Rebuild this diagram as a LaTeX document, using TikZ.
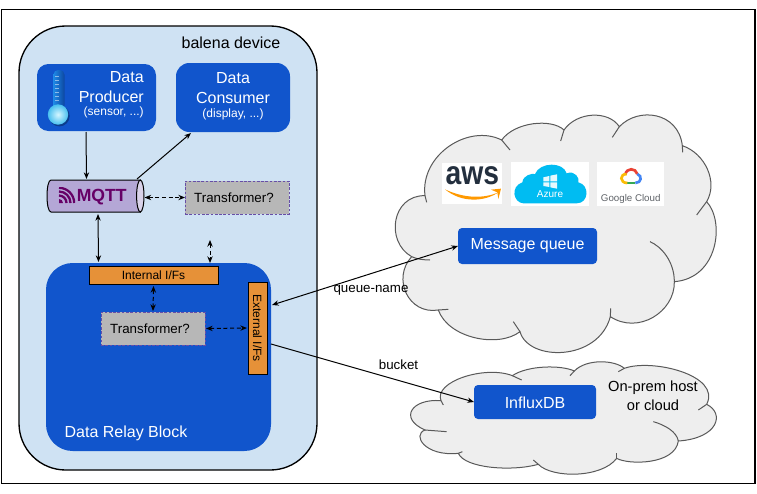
\documentclass[tikz,border=0pt]{standalone}
\usepackage{fontspec}
\setmainfont{Liberation Sans}
\usetikzlibrary{arrows.meta,fit,shadings}
\definecolor{devfill}{HTML}{CFE2F3}
\definecolor{relayblue}{HTML}{1155CC}
\definecolor{ifaceorange}{HTML}{E69138}
\definecolor{transgray}{HTML}{B7B7B7}
\definecolor{transedge}{HTML}{674EA7}
\definecolor{mqttfill}{HTML}{B4A7D6}
\definecolor{mqttend}{HTML}{D9D2E9}
\definecolor{mqttlogo}{HTML}{660066}
\definecolor{cloudfill}{HTML}{EEEEEE}
\definecolor{cloudedge}{HTML}{595959}
\definecolor{azureblue}{HTML}{00BCF2}
\definecolor{awsdark}{HTML}{232F3E}
\definecolor{awsorange}{HTML}{FF9900}
\definecolor{ggray}{HTML}{5F6368}
\definecolor{gred}{HTML}{EA4335}
\definecolor{gblue}{HTML}{4285F4}
\definecolor{ggreen}{HTML}{34A853}
\definecolor{gyellow}{HTML}{FBBC05}
\definecolor{thermA}{HTML}{1E88E5}
\definecolor{thermB}{HTML}{5CC6F7}
\definecolor{thermC}{HTML}{0D47A1}
\definecolor{thermD}{HTML}{D4F6FF}
\definecolor{thermE}{HTML}{48BFEF}
\definecolor{thermF}{HTML}{0B3C8C}
\tikzset{
  boxfit/.style={inner sep=0pt,outer sep=0pt},
  bluebox/.style={boxfit,fill=relayblue},
  ifacebox/.style={boxfit,fill=ifaceorange,draw=black,line width=0.75pt},
  transbox/.style={boxfit,fill=transgray,draw=transedge,line width=0.6pt,dash pattern=on 2pt off 1.2pt},
  whitetext/.style={text=white,inner sep=0pt},
  blacktext/.style={text=black,inner sep=0pt},
  link/.style={black,line width=0.75pt},
  onehead/.style={link,-{Stealth[length=5pt,width=4pt]}},
  twohead/.style={link,{Stealth[length=5pt,width=4pt]}-{Stealth[length=5pt,width=4pt]}},
  dashhead/.style={twohead,dash pattern=on 3pt off 2pt},
  cloudline/.style={draw=cloudedge,line width=0.75pt},
  zoomA/.style={shift={(385,105)},x=0.25pt,y=-0.25pt},
  zoomB/.style={shift={(405,355)},x=0.25pt,y=-0.25pt},
}
\begin{document}
\begin{tikzpicture}[x=0.75pt,y=-0.75pt]
\useasboundingbox (0,0) rectangle (757,493);
\fill[white] (0,0) rectangle (757,493);
\draw[black,line width=1pt] (1.5,9.5) rectangle (755,483.5);

% device
\node[boxfit,fit={(19,26)(317,470)},fill=devfill,draw=black,line width=1pt,rounded corners=35pt] (device) {};
\node[blacktext,font=\fontsize{12}{14}\selectfont] (devlabel) at (231,42.5) {balena device};

% producer
\node[bluebox,fit={(37,64)(156,131)},rounded corners=8.5pt] (producer) {};
\fill[thermF] (59.3,116) circle[radius=10.4];
\shade[left color=thermA,middle color=thermB,right color=thermC,rounded corners=3.5pt] (53.5,70) rectangle (64.5,110);
\foreach \t in {76,80,84,88,92,96,100} \draw[white,opacity=.5,line width=.3pt] (55,\t) -- (59,\t);
\shade[inner color=thermD,outer color=thermE] (58,114.5) circle[radius=10.2];
\node[whitetext,anchor=east,font=\fontsize{12}{14}\selectfont] (prodA) at (144,77.5) {Data};
\node[whitetext,anchor=east,font=\fontsize{12}{14}\selectfont] (prodB) at (144,96.5) {Producer};
\node[whitetext,anchor=east,font=\fontsize{9}{11}\selectfont] (prodC) at (144,112.5) {(sensor, ...)};

% consumer
\node[bluebox,fit={(176,63)(290,132)},rounded corners=10pt] (consumer) {};
\node[whitetext,font=\fontsize{12}{14}\selectfont] (consA) at (233,78.5) {Data};
\node[whitetext,font=\fontsize{12}{14}\selectfont] (consB) at (233,98) {Consumer};
\node[whitetext,font=\fontsize{9}{11}\selectfont] (consC) at (233,114.5) {(display, ...)};

% mqtt
\node[boxfit,fit={(47,180)(144,212)}] (mqtt) {};
\path[fill=mqttfill,draw=black,line width=0.75pt] (51,180) -- (140.3,180) -- (140.3,212) -- (51,212) .. controls (45.7,212) and (45.7,180) .. (51,180) -- cycle;
\draw[fill=mqttend,draw=black,line width=0.75pt] (140.3,196) ellipse [x radius=3.7,y radius=16];
\begin{scope}
  \clip (58.5,187.5) rectangle (75,203.5);
  \fill[mqttlogo] (59,203) -- (59,199) .. controls (61.2,199) and (63,200.8) .. (63,203) -- cycle;
  \foreach \r in {7.5,11.5,15.2}
    \draw[mqttlogo,line width=1.7pt] (59,{203-\r}) .. controls ({59+.55*\r},{203-\r}) and ({59+\r},{203-.55*\r}) .. ({59+\r},203);
\end{scope}
\node[text=mqttlogo,inner sep=0pt,font=\fontsize{13.2}{15}\selectfont\bfseries] (mqtttext) at (101.7,197) {MQTT};

% transformer 1
\node[transbox,fit={(185,181)(289,214)}] (transA) {};
\node[blacktext,font=\fontsize{10}{12}\selectfont] (transAt) at (234,198) {Transformer?};

% relay block
\node[bluebox,fit={(46,263)(271,451)},rounded corners=20pt] (relay) {};
\node[whitetext,font=\fontsize{12}{14}\selectfont] (relaylabel) at (126,433) {Data Relay Block};
\node[ifacebox,fit={(89,266)(218,284)}] (internal) {};
\node[blacktext,font=\fontsize{9}{11}\selectfont] (internalt) at (153.5,275.5) {Internal I/Fs};
\node[ifacebox,fit={(248,282)(267,374)}] (external) {};
\node[blacktext,rotate=-90,font=\fontsize{9}{11}\selectfont] (externalt) at (257.5,328) {External I/Fs};
\node[transbox,fit={(101,312)(205,345)}] (transB) {};
\node[blacktext,font=\fontsize{10}{12}\selectfont] (transBt) at (150,329) {Transformer?};

% cloud 1
\begin{scope}[zoomA]
  \path[fill=cloudfill,cloudline] (120,272) .. controls (105,150) and (250,55) .. (350,105)
    .. controls (390,50) and (500,40) .. (537,75)
    .. controls (575,20) and (670,15) .. (703,65)
    .. controls (760,5) and (880,20) .. (892,122)
    .. controls (960,145) and (1000,230) .. (965,290)
    .. controls (1020,350) and (1000,520) .. (868,530)
    .. controls (870,620) and (760,690) .. (676,635)
    .. controls (640,770) and (430,770) .. (405,680)
    .. controls (340,730) and (190,700) .. (160,615)
    .. controls (70,630) and (20,520) .. (80,455)
    .. controls (0,410) and (20,270) .. (120,272) -- cycle;
  \draw[cloudline] (350,105) -- (375,135);
  \draw[cloudline] (537,75) -- (527,108);
  \draw[cloudline] (703,65) -- (682,97);
  \draw[cloudline] (892,122) -- (893,142);
  \draw[cloudline] (965,290) -- (935,330);
  \draw[cloudline] (868,530) .. controls (868,470) and (830,425) .. (795,410);
  \draw[cloudline] (676,635) -- (677,610);
  \draw[cloudline] (405,680) -- (385,650);
  \draw[cloudline] (160,615) -- (190,613);
  \draw[cloudline] (80,455) .. controls (95,462) and (115,465) .. (135,465);
  \draw[cloudline] (120,272) -- (125,292);
  % aws
  \fill[white] (170,175) rectangle (352,297);
  \fill[awsorange] (180,253) .. controls (230,295) and (300,290) .. (340,262) .. controls (300,280) and (240,282) .. (180,253) -- cycle;
  \fill[awsorange] (318,254) -- (348,251) -- (340,282) -- (337,262) -- cycle;
  % azure
  \fill[white] (378,170) rectangle (612,302);
  \fill[azureblue] (415,295) .. controls (385,293) and (375,245) .. (412,232) .. controls (415,210) and (440,205) .. (450,207) .. controls (465,170) and (535,170) .. (545,205) .. controls (570,195) and (585,220) .. (580,232) .. controls (615,240) and (612,295) .. (575,295) -- cycle;
  \fill[white,opacity=.9] (475,217) -- (493,213) -- (493,229) -- (475,229) -- cycle;
  \fill[white,opacity=.9] (496,212) -- (516,208) -- (516,229) -- (496,229) -- cycle;
  \fill[white,opacity=.9] (475,232) -- (493,232) -- (493,246) -- (475,243) -- cycle;
  \fill[white,opacity=.9] (496,232) -- (516,232) -- (516,251) -- (496,247) -- cycle;
  % google
  \fill[white] (637,170) rectangle (836,302);
  \draw[line width=2pt,color=gred] (721,208) .. controls (725,188) and (752,188) .. (757,207);
  \draw[line width=2pt,color=gblue] (757,207) .. controls (772,212) and (770,234) .. (751,234);
  \draw[line width=2pt,color=ggreen] (751,234) -- (727,234);
  \draw[line width=2pt,color=gyellow] (727,234) .. controls (703,234) and (704,205) .. (725,208);
\end{scope}
\node[text=awsdark,inner sep=0pt,font=\fontsize{20}{24}\selectfont\bfseries] (awstext) at (472.3,175.5) {\scalebox{1.06}[1.25]{aws}};
\node[text=white,inner sep=0pt,font=\fontsize{7.5}{9}\selectfont] (azuretext) at (550,194.5) {Azure};
\node[text=ggray,inner sep=0pt,font=\fontsize{7.3}{9}\selectfont] (gcloudtext) at (630.7,199) {Google Cloud};
\node[bluebox,fit={(458,228)(597,264)},rounded corners=3pt] (queue) {};
\node[whitetext,font=\fontsize{12}{14}\selectfont] (queuet) at (527.5,246) {Message queue};

% cloud 2
\begin{scope}[zoomB]
  \path[fill=cloudfill,cloudline] (108,137) .. controls (85,80) and (240,30) .. (322,62)
    .. controls (370,30) and (470,30) .. (508,48)
    .. controls (545,10) and (630,15) .. (658,40)
    .. controls (740,10) and (950,60) .. (905,148)
    .. controls (960,175) and (940,250) .. (820,258)
    .. controls (810,330) and (670,330) .. (635,310)
    .. controls (590,370) and (440,370) .. (400,328)
    .. controls (320,350) and (180,340) .. (160,295)
    .. controls (60,305) and (20,240) .. (60,225)
    .. controls (-20,190) and (20,130) .. (108,137) -- cycle;
  \draw[cloudline] (322,62) -- (350,75);
  \draw[cloudline] (508,48) -- (495,62);
  \draw[cloudline] (658,40) -- (640,50);
  \draw[cloudline] (905,148) -- (880,165);
  \draw[cloudline] (820,258) .. controls (815,230) and (780,210) .. (745,200);
  \draw[cloudline] (635,310) -- (635,295);
  \draw[cloudline] (400,328) -- (385,315);
  \draw[cloudline] (160,295) -- (172,290);
  \draw[cloudline] (60,225) -- (125,230);
  \draw[cloudline] (108,137) -- (115,150);
\end{scope}
\node[bluebox,fit={(474,385)(596,419)},rounded corners=3pt] (influx) {};
\node[whitetext,font=\fontsize{12}{14}\selectfont] (influxt) at (535,402.5) {InfluxDB};
\node[blacktext,font=\fontsize{11}{13}\selectfont] (onpremA) at (653,387.5) {On-prem host};
\node[blacktext,font=\fontsize{11}{13}\selectfont] (onpremB) at (653,405) {or cloud};

% connectors
\coordinate (freeend) at (210,240);
\draw[onehead] ([shift={(-10.5,1)}]producer.south) -- ([shift={(-9,-1)}]mqtt.north);
\draw[onehead] ([shift={(41.5,-1)}]mqtt.north) -- ([shift={(-42,1)}]consumer.south);
\draw[dashhead] ([shift={(49,1.5)}]mqtt.center) -- (transA.west);
\draw[twohead] ([shift={(2.5,2)}]mqtt.south) -- ([shift={(-55,-4)}]internal.north);
\draw[dashhead] (freeend) -- ([shift={(56.5,-3)}]internal.north);
\draw[dashhead] ([shift={(0,2)}]internal.south) -- ([shift={(0,-1)}]transB.north);
\draw[dashhead] ([shift={(1,0)}]transB.east) -- ([shift={(-1,0)}]external.west);
\draw[twohead] ([shift={(5,-23)}]external.east) -- (queue.west);
\draw[onehead] ([shift={(4,16)}]external.east) -- (influx.west);
\node[blacktext,font=\fontsize{10}{12}\selectfont] (queuelabel) at (371,290) {queue-name};
\node[blacktext,font=\fontsize{10}{12}\selectfont] (bucketlabel) at (398.5,365) {bucket};
\end{tikzpicture}
\end{document}
